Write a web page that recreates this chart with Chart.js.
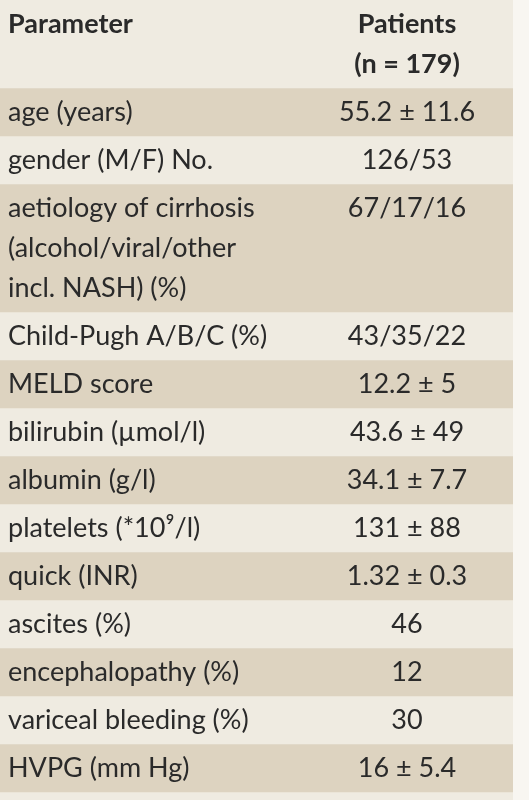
<!DOCTYPE html>
<html>
<head>
<meta charset="utf-8">
<script src="https://cdn.jsdelivr.net/npm/chart.js@4"></script>
<style>
  html, body { margin: 0; padding: 0; background: #f8f6f1; }
  #wrap { width: 529px; height: 800px; }
</style>
</head>
<body>
<div id="wrap"><canvas id="tabla"></canvas></div>
<script>
// table content
const encabezado = ['Parameter', ['Patients', '(n = 179)']];
const parametros = [
  ['age (years)'],
  ['gender (M/F) No.'],
  ['aetiology of cirrhosis', '(alcohol/viral/other', 'incl. NASH) (%)'],
  ['Child-Pugh A/B/C (%)'],
  ['MELD score'],
  ['bilirubin (µmol/l)'],
  ['albumin (g/l)'],
  ['platelets (*10⁹/l)'],
  ['quick (INR)'],
  ['ascites (%)'],
  ['encephalopathy (%)'],
  ['variceal bleeding (%)'],
  ['HVPG (mm Hg)']
];
const valores = ['55.2 ± 11.6', '126/53', '67/17/16', '43/35/22', '12.2 ± 5', '43.6 ± 49',
  '34.1 ± 7.7', '131 ± 88', '1.32 ± 0.3', '46', '12', '30', '16 ± 5.4'];

const PAD = 0.2;          // extra space per row, in text lines
const CLARO = '#efebe1';
const OSCURO = '#ddd3c0';

// each row height = number of text lines + padding
const filas = [{ izq: [encabezado[0]], der: encabezado[1], negrita: true }]
  .concat(parametros.map((p, i) => ({ izq: p, der: [valores[i]], negrita: false })));
const alturas = filas.map(f => Math.max(f.izq.length, f.der.length) + PAD);
const total = 20;
const resto = total - alturas.reduce((a, b) => a + b, 0);

const datasets = filas.map((f, i) => ({
  data: [alturas[i]],
  backgroundColor: (i === 0 || i % 2 === 0) ? CLARO : OSCURO,
  borderWidth: 0
}));
datasets.push({ data: [resto], backgroundColor: CLARO, borderWidth: 0 });

const textoPlugin = {
  id: 'texto',
  afterDatasetsDraw(chart) {
    const { ctx, scales: { y }, chartArea } = chart;
    const lineaPx = Math.abs(y.getPixelForValue(1) - y.getPixelForValue(0));
    let acum = 0;
    ctx.save();
    ctx.fillStyle = '#2a2a2a';
    ctx.textBaseline = 'middle';
    filas.forEach((f, i) => {
      const top = y.getPixelForValue(acum) + lineaPx * PAD / 2;
      ctx.font = (f.negrita ? 'bold ' : '') + '27px Lato, "Open Sans", sans-serif';
      ctx.textAlign = 'left';
      f.izq.forEach((t, k) => ctx.fillText(t, chartArea.left + 8, top + (k + 0.5) * lineaPx));
      ctx.textAlign = 'center';
      f.der.forEach((t, k) => ctx.fillText(t, chartArea.left + 407, top + (k + 0.5) * lineaPx));
      acum += alturas[i];
    });
    ctx.restore();
  }
};

new Chart(document.getElementById('tabla'), {
  type: 'bar',
  data: { labels: [''], datasets },
  options: {
    responsive: true,
    maintainAspectRatio: false,
    animation: false,
    layout: { padding: { left: 0, right: 16, top: 0, bottom: 0 } },
    datasets: { bar: { barPercentage: 1, categoryPercentage: 1 } },
    scales: {
      x: { stacked: true, display: false, offset: true, grid: { display: false } },
      y: { stacked: true, display: false, reverse: true, min: 0, max: total, grid: { display: false } }
    },
    plugins: { legend: { display: false }, tooltip: { enabled: false } }
  },
  plugins: [textoPlugin]
});
</script>
</body>
</html>
